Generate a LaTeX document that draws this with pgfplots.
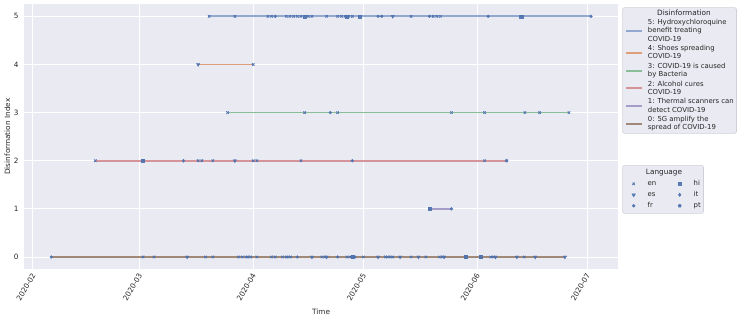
\documentclass[border=0pt]{standalone}
\usepackage{fontspec}
\setmainfont{DejaVu Sans}
\usepackage{pgfplots}
\usepackage{pgfplotstable}
\pgfplotsset{compat=1.18}

\definecolor{bgc}{HTML}{EAEAF2}
\definecolor{txt}{HTML}{262626}
\definecolor{legdraw}{HTML}{D0D0D8}
\definecolor{c0}{HTML}{4C72B0}
\definecolor{c1}{HTML}{DD8452}
\definecolor{c2}{HTML}{55A868}
\definecolor{c3}{HTML}{C44E52}
\definecolor{c4}{HTML}{8172B3}
\definecolor{c5}{HTML}{937860}

\newcommand{\tickfont}{\fontsize{7.3bp}{8.8bp}\selectfont}
\newcommand{\legfont}{\fontsize{6.9bp}{8.3bp}\selectfont}
\newcommand{\titlefont}{\fontsize{7.3bp}{8.8bp}\selectfont}

% days counted from 2020-02-01
\pgfplotstableread{
day row
48 5
55 5
64 5
65 5
69 5
70 5
71 5
72 5
73 5
75 5
76 5
80 5
83 5
84 5
85 5
86 5
87 5
103 5
109 5
110 5
111 5
60 4
53 3
74 3
83 3
114 3
123 3
134 3
138 3
146 3
17 2
45 2
46 2
49 2
60 2
61 2
73 2
123 2
30 0
33 0
47 0
49 0
56 0
57 0
58 0
58.5 0
59.3 0
61 0
65 0
66 0
68 0
69 0
69.5 0
70.2 0
78.7 0
79.5 0
85.5 0
86.3 0
87.7 0
90 0
96 0
96.6 0
97.3 0
98 0
103 0
107 0
110.7 0
111.5 0
124.7 0
125.4 0
133.8 0
}\en

\pgfplotstableread{
day row
98 5
45 4
55 2
42 0
76 0
80 0
94 0
100 0
105 0
112 0
126 0
131.8 0
136.8 0
144.9 0
}\es

\pgfplotstableread{
day row
66 5
94 5
95 5
108 5
124 5
152 5
81 3
87 2
114 1
5 0
72 0
83 0
}\fr

\pgfplotstableread{
day row
74 5
85.5 5
89 5
133 5
30 2
108 1
87 0
117.8 0
122 0
}\hi

\pgfplotstableread{
day row
41 2
}\it

\pgfplotstableread{
day row
129 2
}\pt

\begin{document}
\begin{tikzpicture}
\pgfplotsset{
  base/.style={
    scale only axis, width=593.7bp, height=264.7bp,
    xmin=-2.35, xmax=159.35, ymin=-0.25, ymax=5.25,
  },
  leg/.style={
    fill=bgc, draw=legdraw, line width=0.6bp, rounded corners=2bp,
    inner xsep=2.7bp, inner ysep=2bp, column sep=0pt,
    font=\legfont, text=txt,
    nodes={inner sep=0pt, anchor=west},
    cells={align=left},
  },
  dline/.style={line width=1.8bp},
}
\begin{axis}[base, name=main,
  axis background/.style={fill=bgc},
  axis line style={draw=none},
  major tick length=0pt,
  grid=major, grid style={white, line width=0.9bp},
  xtick={0,29,60,90,121,151},
  xticklabels={2020-02,2020-03,2020-04,2020-05,2020-06,2020-07},
  ytick={0,1,2,3,4,5},
  tick label style={font=\tickfont, text=txt},
  /pgf/number format/assume math mode=true,
  yticklabel style={inner sep=0pt, xshift=-5.6bp},
  xticklabel style={inner sep=0pt, xshift=0.8bp, yshift=-4.8bp, rotate=60, anchor=east},
  xlabel={Time}, ylabel={Disinformation Index},
  label style={font=\tickfont, text=txt},
  xlabel style={at={(axis description cs:0.5,-0.162)}, anchor=center},
  ylabel style={at={(axis description cs:-0.0286,0.5)}, anchor=center},
  legend style={leg, at={(1,1)}, anchor=north west, xshift=4.3bp, yshift=-3bp, row sep=2.7bp},
  legend image code/.code={\path[draw=none, fill=none] (0bp,-2bp) rectangle (21.7bp,2bp); \draw[#1] (0bp,0bp) -- (16bp,0bp);},
]
\addlegendimage{empty legend}
\addlegendentry{\hspace*{36.1bp}\makebox[0pt][c]{\titlefont Disinformation}}
\addplot[dline, c0!55!bgc] coordinates {(48,5) (152,5)};
\addlegendentry{5: Hydroxychloroquine\\benefit treating\\COVID-19}
\addplot[dline, c1!75!bgc] coordinates {(45,4) (60,4)};
\addlegendentry{4: Shoes spreading\\COVID-19}
\addplot[dline, c2!65!bgc] coordinates {(53,3) (146,3)};
\addlegendentry{3: COVID-19 is caused\\by Bacteria}
\addplot[dline, c3!55!bgc] coordinates {(17,2) (129,2)};
\addlegendentry{2: Alcohol cures\\COVID-19}
\addplot[dline, c4!65!bgc] coordinates {(108,1) (114,1)};
\addlegendentry{1: Thermal scanners can\\detect COVID-19}
\addplot[dline, c5!85!bgc] coordinates {(5,0) (144.9,0)};
\addlegendentry{0: 5G amplify the\\spread of COVID-19}
\end{axis}

\begin{axis}[base, hide axis,
  legend columns=2,
  legend style={leg, at={(1,1)}, anchor=north west, xshift=4.3bp, yshift=-160.7bp, row sep=0pt,
    nodes={inner sep=0pt, anchor=west, text height=6bp, text depth=2bp, inner ysep=1.5bp}},
  legend image code/.code={\path[draw=none, fill=none] (0bp,-2bp) rectangle (22.4bp,2bp); \draw[#1] plot coordinates {(8.4bp,0bp)};},
]
\addlegendimage{empty legend}
\addlegendentry{\hspace*{16.3bp}\makebox[0pt][c]{\titlefont Language}\hspace*{7.3bp}}
\addlegendimage{empty legend}
\addlegendentry{\phantom{x}}
\addplot[only marks, mark=x, mark size=1.7bp, draw=c0, line width=0.8bp] table[x=day, y=row] {\en};
\addlegendentry{en}
\addplot[only marks, mark=square*, mark size=1.6bp, draw=c0, fill=c0, opacity=0.9] table[x=day, y=row] {\hi};
\addlegendentry{hi}
\addplot[only marks, mark=triangle*, mark options={rotate=180}, mark size=2bp, draw=c0, fill=c0, opacity=0.9] table[x=day, y=row] {\es};
\addlegendentry{es}
\addplot[only marks, mark=diamond*, mark size=1.6bp, draw=c0, fill=c0, opacity=0.9] table[x=day, y=row] {\it};
\addlegendentry{it}
\addplot[only marks, mark=*, mark size=1.4bp, draw=c0, fill=c0, opacity=0.9] table[x=day, y=row] {\fr};
\addlegendentry{fr}
\addplot[only marks, mark=pentagon*, mark size=1.6bp, draw=c0, fill=c0, opacity=0.9] table[x=day, y=row] {\pt};
\addlegendentry{pt}
\end{axis}
\pgfresetboundingbox
\path[use as bounding box] (main.south west) ++(-24.3bp,-51bp) rectangle ++(747bp,320bp);
\end{tikzpicture}
\end{document}
